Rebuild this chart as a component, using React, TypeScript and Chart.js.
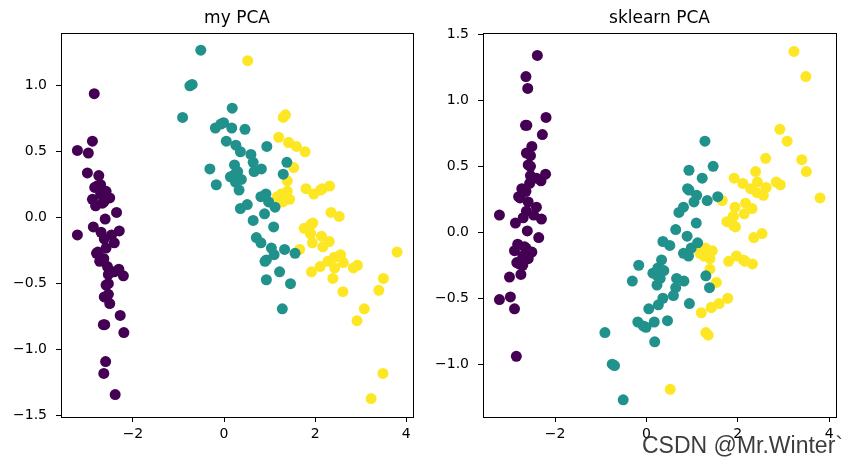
import { useEffect, useRef } from "react";
import { Chart, registerables } from "chart.js";
Chart.register(...registerables);

// Principal component 1 (shared by both panels)
const setosaPC1 = [-2.68,-2.71,-2.89,-2.75,-2.73,-2.28,-2.82,-2.63,-2.89,-2.67,-2.51,-2.61,-2.79,-3.22,-2.64,-2.39,-2.62,-2.65,-2.20,-2.59,-2.31,-2.54,-3.22,-2.30,-2.36,-2.51,-2.47,-2.56,-2.64,-2.63,-2.59,-2.41,-2.65,-2.60,-2.64,-2.87,-2.63,-2.80,-2.98,-2.59,-2.77,-2.85,-3.00,-2.41,-2.21,-2.71,-2.54,-2.84,-2.54,-2.70];
const versicolorPC1 = [1.28,0.93,1.46,0.18,1.09,0.64,1.10,-0.75,1.04,-0.01,-0.51,0.51,0.26,0.98,-0.17,0.93,0.66,0.24,0.94,0.05,1.12,0.36,1.30,0.92,0.71,0.90,1.33,1.56,0.81,-0.31,-0.07,-0.19,0.14,1.38,0.59,0.81,1.22,0.82,0.25,0.17,0.46,0.89,0.23,-0.70,0.36,0.33,0.38,0.64,-0.91,0.30];
const virginicaPC1 = [2.53,1.42,2.62,1.97,2.35,3.40,0.52,2.93,2.32,2.92,1.66,1.80,2.17,1.35,1.59,1.90,1.95,3.49,3.80,1.30,2.43,1.20,3.50,1.39,2.28,2.61,1.26,1.29,2.12,2.39,2.84,3.23,2.16,1.44,1.78,3.08,2.14,1.91,1.17,2.11,2.31,1.92,1.42,2.56,2.42,1.94,1.53,1.76,1.90,1.39];

// Principal component 2, "sklearn PCA" panel
const setosaSkPC2 = [0.32,-0.18,-0.14,-0.32,0.33,0.74,-0.09,0.16,-0.58,-0.11,0.65,0.01,-0.24,-0.51,1.18,1.34,0.81,0.31,0.87,0.51,0.39,0.43,0.13,0.10,-0.04,-0.15,0.13,0.37,0.31,-0.20,-0.20,0.41,0.81,1.09,-0.12,0.07,0.60,0.27,-0.49,0.23,0.26,-0.94,-0.34,0.19,0.44,-0.25,0.50,-0.23,0.58,0.11];
const versicolorSkPC2 = [0.69,0.32,0.50,-0.83,0.07,-0.42,0.28,-1.00,0.23,-0.72,-1.27,-0.10,-0.55,-0.12,-0.25,0.47,-0.35,-0.33,-0.54,-0.58,-0.08,-0.07,-0.33,-0.18,0.15,0.33,0.24,0.27,-0.16,-0.37,-0.71,-0.68,-0.31,-0.42,-0.48,0.19,0.41,-0.37,-0.27,-0.68,-0.67,-0.03,-0.40,-1.01,-0.50,-0.21,-0.29,0.02,-0.76,-0.35];
const virginicaSkPC2 = [-0.01,-0.57,0.34,-0.18,-0.04,0.55,-1.19,0.36,-0.24,0.78,0.24,-0.22,0.22,-0.78,-0.54,0.12,0.04,1.18,0.26,-0.76,0.38,-0.61,0.46,-0.20,0.33,0.56,-0.18,-0.12,-0.21,0.46,0.38,1.37,-0.22,-0.14,-0.50,0.69,0.14,0.05,-0.16,0.37,0.18,0.41,-0.57,0.28,0.30,0.19,-0.38,0.08,0.12,-0.28];

// Principal component 2, "my PCA" panel
const setosaMyPC2 = [-0.32,0.18,0.14,0.32,-0.33,-0.74,0.09,-0.16,0.58,0.11,-0.65,-0.01,0.24,0.51,-1.18,-1.34,-0.81,-0.31,-0.87,-0.51,-0.39,-0.43,-0.13,-0.10,0.04,0.15,-0.13,-0.37,-0.31,0.20,0.20,-0.41,-0.81,-1.09,0.12,-0.07,-0.60,-0.27,0.49,-0.23,-0.26,0.94,0.34,-0.19,-0.44,0.25,-0.50,0.23,-0.58,-0.11];
const versicolorMyPC2 = [-0.69,-0.32,-0.50,0.83,-0.07,0.42,-0.28,1.00,-0.23,0.72,1.27,0.10,0.55,0.12,0.25,-0.47,0.35,0.33,0.54,0.58,0.08,0.07,0.33,0.18,-0.15,-0.33,-0.24,-0.27,0.16,0.37,0.71,0.68,0.31,0.42,0.48,-0.19,-0.41,0.37,0.27,0.68,0.67,0.03,0.40,1.01,0.50,0.21,0.29,-0.02,0.76,0.35];
const virginicaMyPC2 = [0.01,0.57,-0.34,0.18,0.04,-0.55,1.19,-0.36,0.24,-0.78,-0.24,0.22,-0.22,0.78,0.54,-0.12,-0.04,-1.18,-0.26,0.76,-0.38,0.61,-0.46,0.20,-0.33,-0.56,0.18,0.12,0.21,-0.46,-0.38,-1.37,0.22,0.14,0.50,-0.69,-0.14,-0.05,0.16,-0.37,-0.18,-0.41,0.57,-0.28,-0.30,-0.19,0.38,-0.08,-0.12,0.28];

const xTicks = [-2, 0, 2, 4];
const myYTicks = [-1.5, -1.0, -0.5, 0.0, 0.5, 1.0];
const skYTicks = [-1.0, -0.5, 0.0, 0.5, 1.0, 1.5];
const titles = ["my PCA", "sklearn PCA"];
const watermark = "CSDN @Mr.Winter`";

const COLORS = ["#440154", "#21918c", "#fde725"];
const FONT = '"DejaVu Sans", sans-serif';

const fmt = (v: number, dec: number) => {
  const s = Math.abs(v).toFixed(dec);
  return v < 0 ? "\u2212" + s : s;
};

function toPts(xs: number[], ys: number[]) {
  return xs.map((x, i) => ({ x, y: ys[i] }));
}

function buildConfig(opts: {
  title: string;
  ys: number[][];
  yMin: number;
  yMax: number;
  yTicks: number[];
  yWidth: number;
  padRight: number;
  watermark?: string;
}): any {
  const xs = [setosaPC1, versicolorPC1, virginicaPC1];
  const data = {
    datasets: xs.map((x, i) => ({
      data: toPts(x, opts.ys[i]),
      backgroundColor: COLORS[i],
      borderWidth: 0,
      pointRadius: 5.5,
      pointHoverRadius: 5.5,
    })),
  };
  const framePlugin = {
    id: "frame",
    afterDraw(chart: any) {
      const { ctx, chartArea } = chart;
      ctx.save();
      ctx.strokeStyle = "#000";
      ctx.lineWidth = 1;
      ctx.strokeRect(
        Math.round(chartArea.left) + 0.5,
        Math.round(chartArea.top) + 0.5,
        Math.round(chartArea.right - chartArea.left),
        Math.round(chartArea.bottom - chartArea.top)
      );
      ctx.fillStyle = "#000";
      ctx.font = "17px " + FONT;
      ctx.textAlign = "center";
      ctx.textBaseline = "alphabetic";
      ctx.fillText(opts.title, (chartArea.left + chartArea.right) / 2, 23);
      if (opts.watermark) {
        ctx.font = '23px "Liberation Sans", sans-serif';
        ctx.textAlign = "left";
        ctx.fillStyle = "rgba(40,40,40,0.9)";
        ctx.fillText(opts.watermark, 642 - 432, 453);
      }
      ctx.restore();
    },
  };
  return {
    type: "scatter",
    data,
    plugins: [framePlugin],
    options: {
      animation: false,
      responsive: false,
      devicePixelRatio: 1,
      layout: { padding: { top: 33, right: opts.padRight, left: 0, bottom: 0 } },
      plugins: { legend: { display: false }, tooltip: { enabled: false }, title: { display: false } },
      scales: {
        x: {
          type: "linear",
          min: -3.58,
          max: 4.15,
          afterBuildTicks: (s: any) => {
            s.ticks = xTicks.map((v) => ({ value: v }));
          },
          afterFit: (s: any) => {
            s.height = 48;
          },
          ticks: {
            callback: (v: any) => fmt(Number(v), 0),
            font: { family: FONT, size: 14 },
            color: "#000",
            padding: 4,
            maxRotation: 0,
            autoSkip: false,
          },
          grid: { drawOnChartArea: false, drawTicks: true, tickLength: 5, color: "#000" },
          border: { display: false },
        },
        y: {
          type: "linear",
          min: opts.yMin,
          max: opts.yMax,
          afterBuildTicks: (s: any) => {
            s.ticks = opts.yTicks.map((v) => ({ value: v }));
          },
          afterFit: (s: any) => {
            s.width = opts.yWidth;
          },
          ticks: {
            callback: (v: any) => fmt(Number(v), 1),
            font: { family: FONT, size: 14 },
            color: "#000",
            padding: 9,
            autoSkip: false,
          },
          grid: { drawOnChartArea: false, drawTicks: true, tickLength: 5, color: "#000" },
          border: { display: false },
        },
      },
    },
  };
}

export default function App() {
  const ref1 = useRef<HTMLCanvasElement>(null);
  const ref2 = useRef<HTMLCanvasElement>(null);
  useEffect(() => {
    const c1 = new Chart(
      ref1.current as HTMLCanvasElement,
      buildConfig({
        title: titles[0],
        ys: [setosaMyPC2, versicolorMyPC2, virginicaMyPC2],
        yMin: -1.51,
        yMax: 1.4,
        yTicks: myYTicks,
        yWidth: 61,
        padRight: 19,
      })
    );
    const c2 = new Chart(
      ref2.current as HTMLCanvasElement,
      buildConfig({
        title: titles[1],
        ys: [setosaSkPC2, versicolorSkPC2, virginicaSkPC2],
        yMin: -1.4,
        yMax: 1.51,
        yTicks: skYTicks,
        yWidth: 51,
        padRight: 28,
        watermark,
      })
    );
    return () => {
      c1.destroy();
      c2.destroy();
    };
  }, []);
  return (
    <div style={{ position: "fixed", left: 0, top: 0, width: 864, height: 465, background: "#fff" }}>
      <canvas ref={ref1} width={432} height={465} style={{ position: "absolute", left: 0, top: 0 }} />
      <canvas ref={ref2} width={432} height={465} style={{ position: "absolute", left: 432, top: 0 }} />
    </div>
  );
}
